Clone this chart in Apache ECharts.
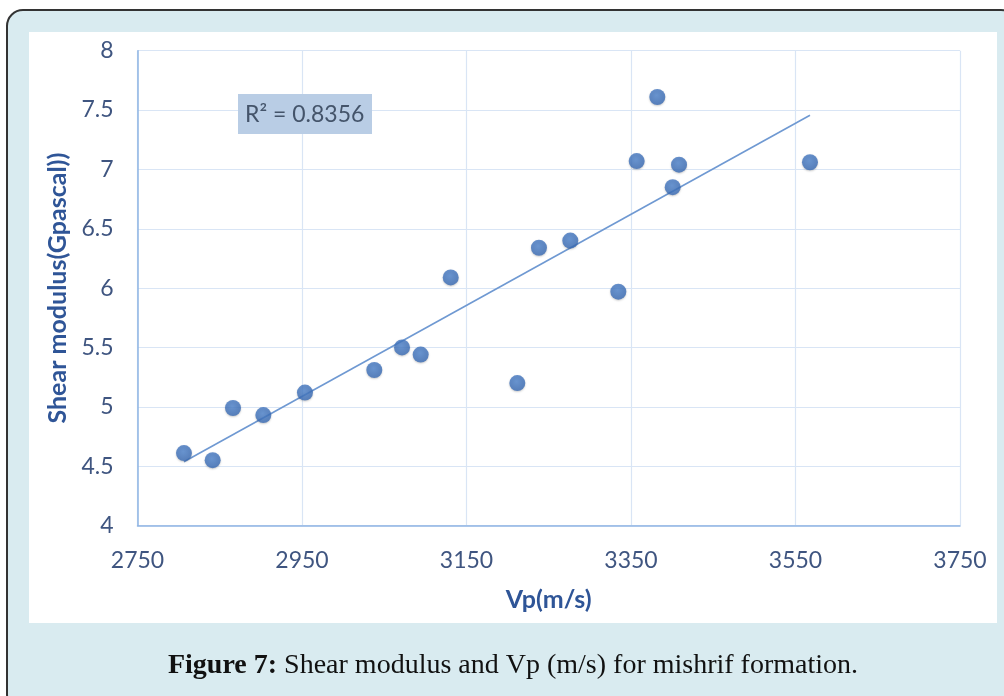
<!DOCTYPE html>
<html>
<head>
<meta charset="utf-8">
<script src="https://cdn.jsdelivr.net/npm/echarts@6/dist/echarts.min.js"></script>
<style>
html,body{margin:0;padding:0;background:#ffffff;}
#chart{width:1004px;height:696px;}
</style>
</head>
<body>
<div id="chart"></div>
<script>
// ---- data ----
const vp = [2806.5, 2841.4, 2866.1, 2903.0, 2953.6, 3037.9, 3071.6, 3094.3, 3130.8, 3211.8, 3238.1, 3276.2, 3334.6, 3356.9, 3382.0, 3400.7, 3408.4, 3567.6];
const shearModulus = [4.61, 4.55, 4.99, 4.93, 5.12, 5.31, 5.50, 5.44, 6.09, 5.20, 6.34, 6.40, 5.97, 7.07, 7.61, 6.85, 7.04, 7.06];
const xTicks = [2750, 3750, 200];
const yTicks = [4, 8, 0.5];
const r2Label = 'R² = 0.8356';
const xTitle = 'Vp(m/s)';
const yTitle = 'Shear modulus(Gpascal))';
const captionBold = 'Figure 7:';
const captionText = ' Shear modulus and Vp (m/s) for mishrif formation.';

// least-squares trendline (as Excel draws it, from min x to max x)
const n = vp.length;
const mx = vp.reduce((a, b) => a + b, 0) / n;
const my = shearModulus.reduce((a, b) => a + b, 0) / n;
let sxy = 0, sxx = 0;
for (let i = 0; i < n; i++) { sxy += (vp[i] - mx) * (shearModulus[i] - my); sxx += (vp[i] - mx) * (vp[i] - mx); }
const slope = sxy / sxx, intercept = my - slope * mx;
const xMin = Math.min(...vp), xMax = Math.max(...vp);
const trend = [[xMin, intercept + slope * xMin], [xMax, intercept + slope * xMax]];
const points = vp.map((x, i) => [x, shearModulus[i]]);

const labelFont = 'Lato, "Open Sans", sans-serif';
const chart = echarts.init(document.getElementById('chart'), null, {renderer: 'canvas'});
chart.setOption({
  animation: false,
  backgroundColor: 'transparent',
  graphic: [
    {type: 'rect', z: -100, silent: true, shape: {x: 7, y: 10, width: 1010, height: 700, r: 16},
     style: {fill: '#d9ebf0', stroke: '#333333', lineWidth: 2}},
    {type: 'rect', z: -99, silent: true, shape: {x: 29, y: 32, width: 968, height: 591},
     style: {fill: '#ffffff'}},
    {type: 'rect', z: 50, silent: true, shape: {x: 238, y: 94, width: 134, height: 40},
     style: {fill: '#b9cde5'}},
    {type: 'text', z: 51, silent: true, x: 245, y: 115,
     style: {text: r2Label, fill: '#44546a', font: '23px ' + labelFont, verticalAlign: 'middle'}},
    {type: 'text', z: 51, silent: true, x: 513, y: 666,
     style: {
       text: '{b|' + captionBold + '}{r|' + captionText + '}',
       align: 'center', verticalAlign: 'middle',
       rich: {
         b: {fontFamily: '"Liberation Serif", serif', fontWeight: 'bold', fontSize: 28, fill: '#111111'},
         r: {fontFamily: '"Liberation Serif", serif', fontSize: 28, fill: '#111111'}
       }
     }}
  ],
  grid: {left: 137.5, top: 50.7, right: 44, bottom: 170.5},
  xAxis: {
    type: 'value', min: xTicks[0], max: xTicks[1], interval: xTicks[2],
    name: xTitle, nameLocation: 'middle', nameGap: 62,
    nameTextStyle: {color: '#2f5597', fontWeight: 'bold', fontSize: 25, fontFamily: labelFont},
    axisLine: {show: true, lineStyle: {color: '#8fb4e3', width: 1.5}},
    axisTick: {show: false},
    splitLine: {show: true, lineStyle: {color: '#d9e5f5', width: 1.2}},
    axisLabel: {color: '#3f5580', fontSize: 23, fontFamily: labelFont, margin: 24,
                formatter: v => String(v)}
  },
  yAxis: {
    type: 'value', min: yTicks[0], max: yTicks[1], interval: yTicks[2],
    name: yTitle, nameLocation: 'middle', nameRotate: 90, nameGap: 65,
    nameTextStyle: {color: '#2f5597', fontWeight: 'bold', fontSize: 25, fontFamily: labelFont},
    axisLine: {show: true, lineStyle: {color: '#8fb4e3', width: 1.5}},
    axisTick: {show: false},
    splitLine: {show: true, lineStyle: {color: '#d9e5f5', width: 1.2}},
    axisLabel: {color: '#3f5580', fontSize: 23, fontFamily: labelFont, margin: 24,
                formatter: v => String(v)}
  },
  series: [
    {type: 'line', data: trend, symbol: 'none', z: 2,
     lineStyle: {color: '#6f99d2', width: 1.6}},
    {type: 'scatter', data: points, symbol: 'circle', symbolSize: 16, z: 3,
     itemStyle: {
       color: {type: 'radial', x: 0.45, y: 0.4, r: 0.6,
               colorStops: [{offset: 0, color: '#4f85cf'}, {offset: 1, color: '#386ab4'}]},
       shadowColor: 'rgba(0,0,0,0.25)', shadowBlur: 2, shadowOffsetY: 1
     }}
  ]
});
</script>
</body>
</html>
